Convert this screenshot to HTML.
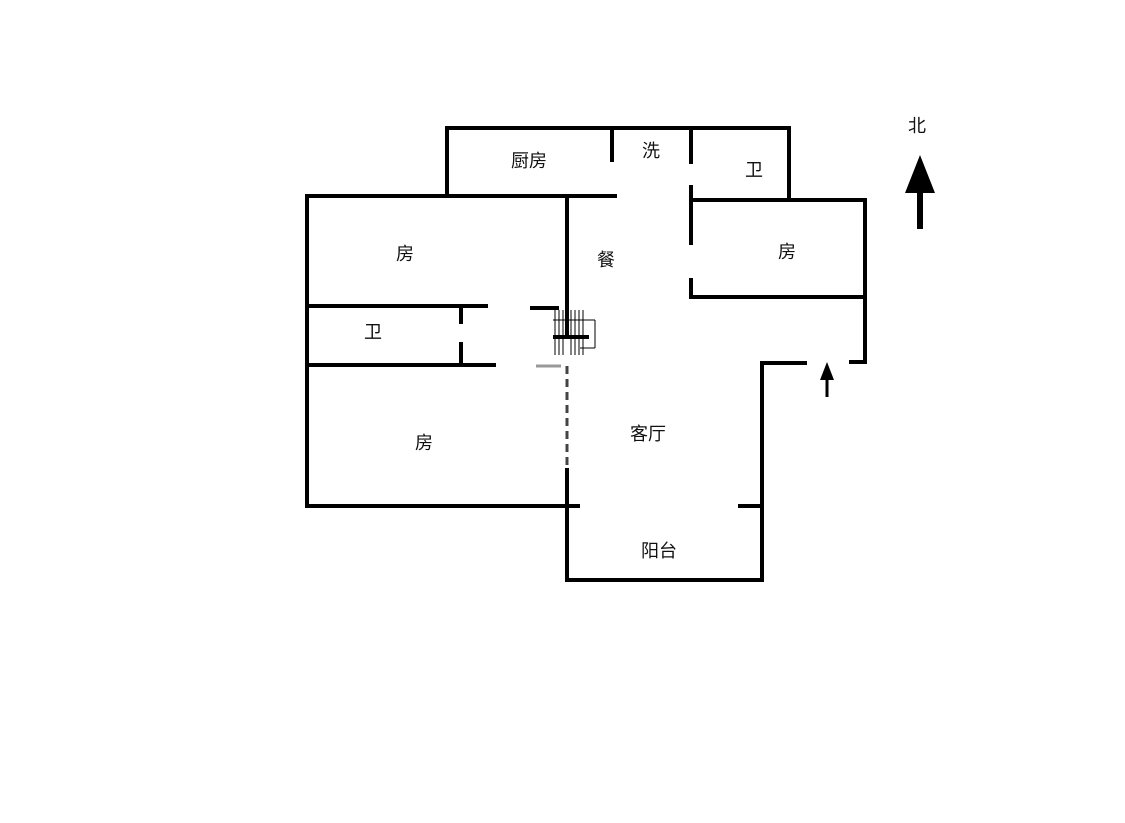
<!DOCTYPE html>
<html><head><meta charset="utf-8"><style>
html,body{margin:0;padding:0;background:#fff;}
svg text{font-family:"Liberation Sans","Noto Sans CJK SC",sans-serif;font-size:18px;fill:#111;}
</style></head><body>
<svg width="1125" height="818" viewBox="0 0 1125 818" xmlns="http://www.w3.org/2000/svg">
<g stroke="#000" stroke-width="4" fill="none" stroke-linecap="square">
<!-- top block -->
<line x1="447" y1="128" x2="789" y2="128"/>
<line x1="447" y1="128" x2="447" y2="196"/>
<line x1="307" y1="196" x2="615" y2="196"/>
<line x1="612" y1="128" x2="612" y2="160"/>
<line x1="691" y1="128" x2="691" y2="162"/>
<line x1="789" y1="128" x2="789" y2="198"/>
<!-- right room -->
<line x1="691" y1="187" x2="691" y2="243"/>
<line x1="691" y1="200" x2="865" y2="200"/>
<line x1="691" y1="280" x2="691" y2="297"/>
<line x1="691" y1="297" x2="865" y2="297"/>
<line x1="865" y1="200" x2="865" y2="362"/>
<line x1="851" y1="362" x2="865" y2="362"/>
<line x1="762" y1="363" x2="805" y2="363"/>
<line x1="762" y1="363" x2="762" y2="580"/>
<line x1="740" y1="506" x2="762" y2="506"/>
<!-- left -->
<line x1="307" y1="196" x2="307" y2="506"/>
<line x1="567" y1="196" x2="567" y2="334"/>
<line x1="307" y1="306" x2="486" y2="306"/>
<line x1="461" y1="306" x2="461" y2="322"/>
<line x1="461" y1="344" x2="461" y2="365"/>
<line x1="307" y1="365" x2="494" y2="365"/>
<line x1="532" y1="308" x2="557" y2="308"/>
<line x1="567" y1="470" x2="567" y2="580"/>
<line x1="307" y1="506" x2="578" y2="506"/>
<line x1="567" y1="580" x2="762" y2="580"/>
</g>
<!-- stair hatch -->
<g stroke="#000" stroke-width="1">
<line x1="555" y1="310" x2="555" y2="355"/><line x1="559" y1="310" x2="559" y2="355"/>
<line x1="563" y1="310" x2="563" y2="355"/><line x1="571" y1="310" x2="571" y2="355"/>
<line x1="575" y1="310" x2="575" y2="355"/><line x1="579" y1="310" x2="579" y2="355"/>
<line x1="583" y1="310" x2="583" y2="355"/><line x1="553" y1="320" x2="595" y2="320"/>
<line x1="595" y1="320" x2="595" y2="348"/><line x1="580" y1="348" x2="595" y2="348"/>
</g>
<line x1="553" y1="337" x2="589" y2="337" stroke="#000" stroke-width="4"/>
<line x1="536" y1="366" x2="561" y2="366" stroke="#999" stroke-width="3"/>
<line x1="567" y1="366" x2="567" y2="470" stroke="#444" stroke-width="3" stroke-dasharray="8,5"/>
<!-- entry arrow -->
<line x1="827" y1="375" x2="827" y2="397" stroke="#000" stroke-width="3"/>
<polygon points="827,362 820,380 834,380" fill="#000"/>
<!-- north arrow -->
<line x1="920" y1="185" x2="920" y2="229" stroke="#000" stroke-width="6"/>
<polygon points="920,155 905,193 935,193" fill="#000"/>
<text x="908" y="132">北</text>
<text x="511" y="167">厨房</text>
<text x="642" y="157">洗</text>
<text x="745" y="176">卫</text>
<text x="778" y="258">房</text>
<text x="396" y="260">房</text>
<text x="597" y="266">餐</text>
<text x="364" y="338">卫</text>
<text x="415" y="449">房</text>
<text x="630" y="440">客厅</text>
<text x="641" y="557">阳台</text>
</svg>
</body></html>
